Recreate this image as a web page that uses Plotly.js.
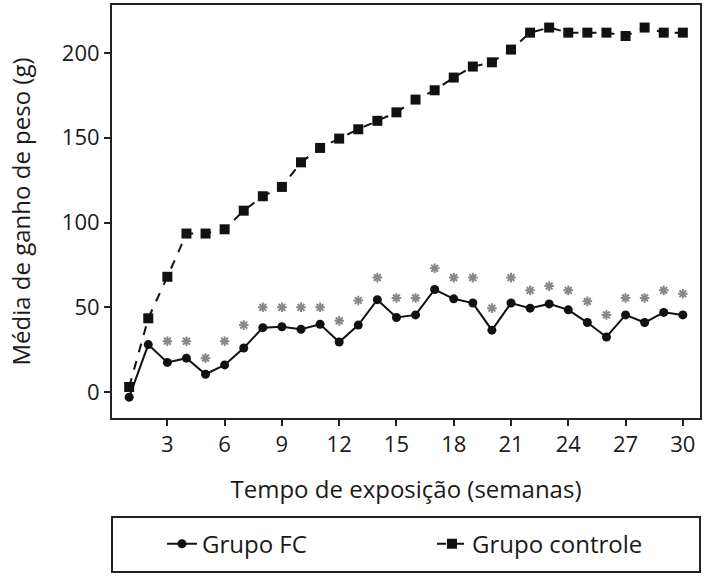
<!DOCTYPE html>
<html>
<head>
<meta charset="utf-8">
<script src="https://cdn.plot.ly/plotly-3.0.1.min.js"></script>
<style>html,body{margin:0;padding:0;background:#fff;}#chart{width:709px;height:577px;}</style>
</head>
<body>
<div id="chart"></div>
<script>
const weeks = [1,2,3,4,5,6,7,8,9,10,11,12,13,14,15,16,17,18,19,20,21,22,23,24,25,26,27,28,29,30];
const grupoFC = [-3,28,17.5,20,10.5,16,26,38,38.5,37,40,29.5,39.5,54.5,44,45.5,60.5,55,52.5,36.5,52.5,49.5,52,48.5,41,32.5,45.5,41,47,45.5];
const grupoControle = [3,43.5,68,93.5,93.5,96,107,115.5,121,135.5,144,149.5,155,160,165,172.5,178,185.5,192,194.5,202,212,215,212,212,212,210,215,212,212];
const sigWeeks = [3,4,5,6,7,8,9,10,11,12,13,14,15,16,17,18,19,20,21,22,23,24,25,26,27,28,29,30];
const sigMarks = [30,30,20,30,39.5,50,50,50,50,42,54,67.5,55.5,55.5,73,67.5,67.5,49.5,67.5,60,62.5,60,53.5,45.5,55.5,55.5,60,58];
const xTicks = [3,6,9,12,15,18,21,24,27,30];
const yTicks = [0,50,100,150,200];
const seriesNames = ['Grupo FC','Grupo controle'];
const xTitle = 'Tempo de exposição (semanas)';
const yTitle = 'Média de ganho de peso (g)';

const fontFam = 'Open Sans, sans-serif';
const txtColor = '#1a1a1a';

const traces = [
  {x: weeks, y: grupoFC, name: seriesNames[0], mode: 'lines+markers', type: 'scatter',
   line: {color: '#111', width: 2}, marker: {symbol: 'circle', size: 9, color: '#111'}},
  {x: weeks, y: grupoControle, name: seriesNames[1], mode: 'lines+markers', type: 'scatter',
   line: {color: '#111', width: 2, dash: 'dash'}, marker: {symbol: 'square', size: 10, color: '#111'}},
  {x: sigWeeks, y: sigMarks, mode: 'markers', type: 'scatter', showlegend: false, hoverinfo: 'skip',
   marker: {symbol: 'asterisk-open', size: 8, color: '#888', line: {color: '#888', width: 2}}}
];

const layout = {
  width: 709, height: 577,
  margin: {l: 112, r: 9, t: 5, b: 159, autoexpand: false},
  paper_bgcolor: '#fff', plot_bgcolor: '#fff',
  font: {family: fontFam, size: 22, color: txtColor},
  xaxis: {range: [0.1, 30.9], tickvals: xTicks, ticktext: xTicks.map(String),
    showgrid: false, zeroline: false, showline: true, mirror: true, linecolor: '#222', linewidth: 2,
    ticks: 'outside', ticklen: 6, tickwidth: 2, tickcolor: '#222',
    tickfont: {family: fontFam, size: 22, color: txtColor},
    title: {text: xTitle, font: {family: fontFam, size: 24, color: txtColor}, standoff: 24}},
  yaxis: {range: [-15.3, 228.3], tickvals: yTicks, ticktext: yTicks.map(String),
    showgrid: false, zeroline: false, showline: true, mirror: true, linecolor: '#222', linewidth: 2,
    ticks: 'outside', ticklen: 6, tickwidth: 2, tickcolor: '#222',
    tickfont: {family: fontFam, size: 22, color: txtColor},
    title: {text: yTitle, font: {family: fontFam, size: 24, color: txtColor}, standoff: 24}},
  showlegend: true,
  legend: {orientation: 'h', xref: 'paper', x: 0.085, xanchor: 'left',
    yref: 'container', y: 0.057, yanchor: 'middle',
    bgcolor: 'rgba(0,0,0,0)', borderwidth: 0, font: {family: fontFam, size: 24, color: txtColor},
    entrywidth: 225, entrywidthmode: 'pixels'},
  shapes: [{type: 'rect', xref: 'paper', yref: 'paper', x0: 0, x1: 1, y0: -0.373, y1: -0.240,
    line: {color: '#222', width: 2}, fillcolor: 'rgba(0,0,0,0)'}]
};

Plotly.newPlot('chart', traces, layout, {displayModeBar: false, staticPlot: true});
</script>
</body>
</html>
